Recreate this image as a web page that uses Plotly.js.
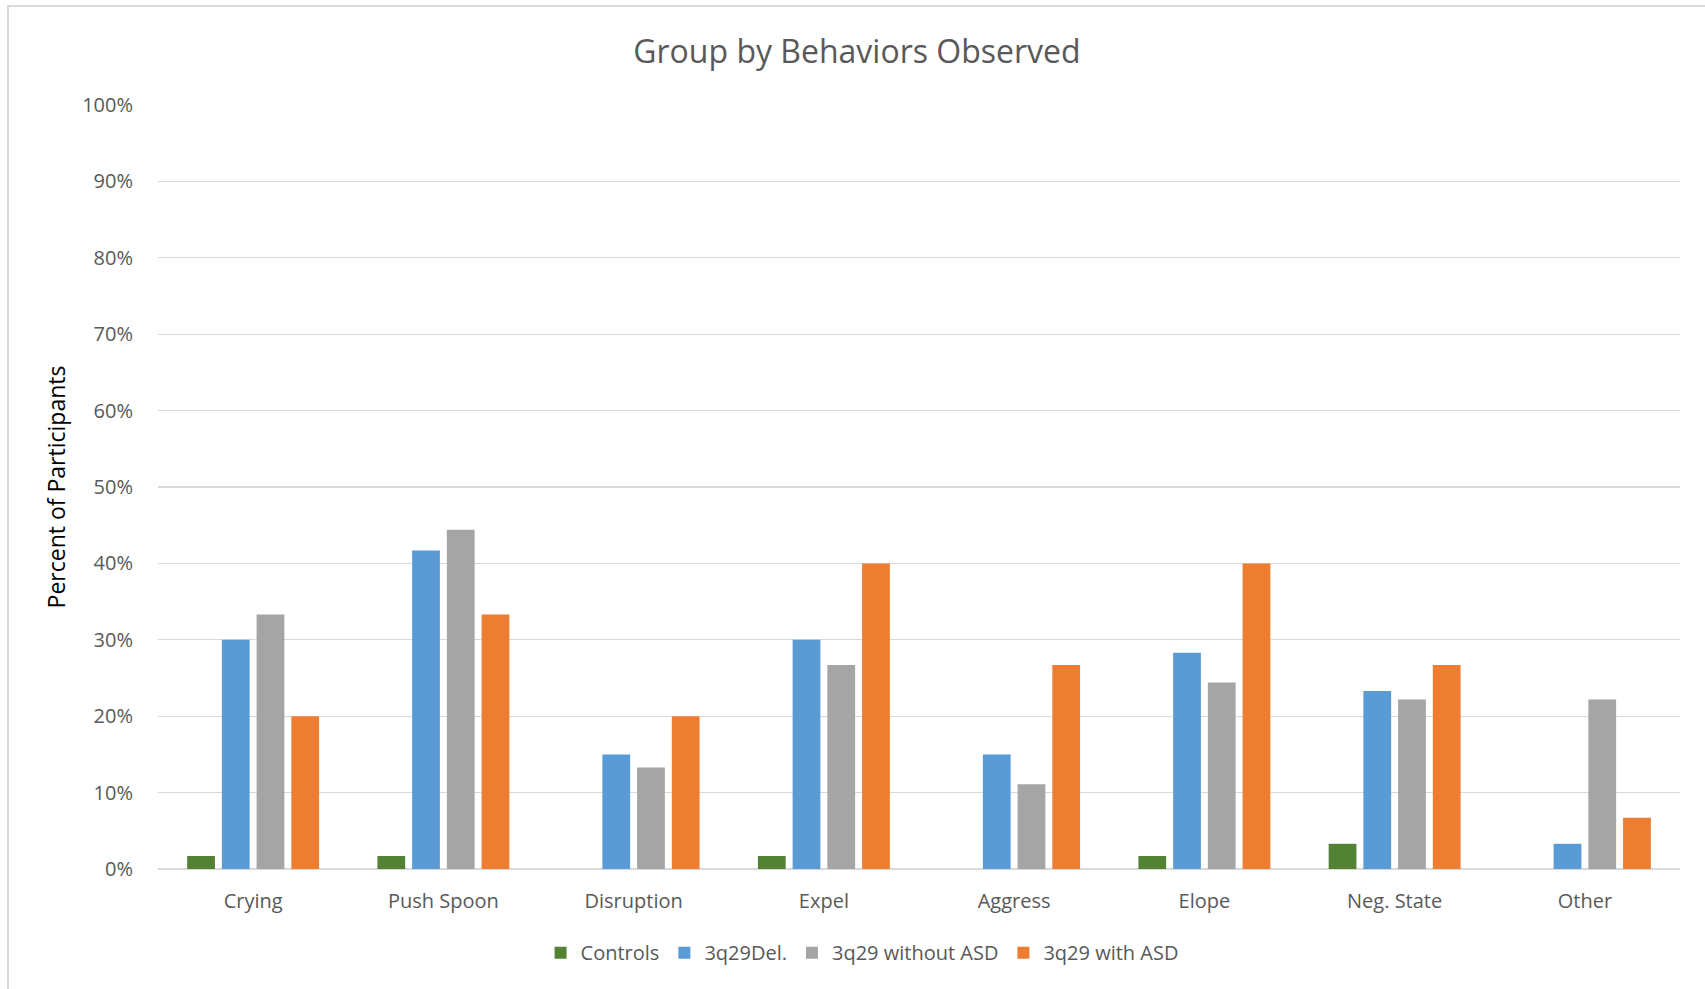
<!DOCTYPE html>
<html>
<head>
<meta charset="utf-8">
<script src="https://cdn.plot.ly/plotly-3.0.1.min.js"></script>
<style>
  html, body { margin: 0; padding: 0; background: #fff; }
  #frame { position: absolute; left: 7px; top: 5px; width: 1720px; height: 1000px; border-left: 2px solid #d9d9d9; border-top: 2px solid #d9d9d9; pointer-events: none; }
  #chart { width: 1705px; height: 989px; }
</style>
</head>
<body>
<div id="chart"></div>
<div id="frame"></div>
<script>
const categories = ["Crying", "Push Spoon", "Disruption", "Expel", "Aggress", "Elope", "Neg. State", "Other"];
const controls = [0.017, 0.017, 0, 0.017, 0, 0.017, 0.033, 0];
const del3q29 = [0.30, 0.417, 0.15, 0.30, 0.15, 0.283, 0.233, 0.033];
const withoutASD = [0.333, 0.444, 0.133, 0.267, 0.111, 0.244, 0.222, 0.222];
const withASD = [0.20, 0.333, 0.20, 0.40, 0.267, 0.40, 0.267, 0.067];
const seriesNames = ["Controls", "3q29Del.", "3q29 without ASD", "3q29 with ASD"];
const seriesColors = ["#548235", "#5B9BD5", "#A5A5A5", "#ED7D31"];
const seriesValues = [controls, del3q29, withoutASD, withASD];

const traces = seriesValues.map((vals, i) => ({
  type: "bar",
  name: seriesNames[i],
  x: categories,
  y: vals,
  marker: { color: seriesColors[i], line: { width: 0 } },
  hoverinfo: "x+y+name"
}));

const font = "Open Sans, Noto Sans, sans-serif";

const layout = {
  width: 1705,
  height: 989,
  paper_bgcolor: "#ffffff",
  plot_bgcolor: "#ffffff",
  margin: { l: 158, r: 25, t: 105, b: 120 },
  barmode: "group",
  bargap: 0.27,
  bargroupgap: 0.2,
  title: {
    text: "Group by Behaviors Observed",
    font: { family: font, size: 32, color: "#595959" },
    x: 0.5026, xref: "container", xanchor: "center",
    y: 0.948, yref: "container", yanchor: "middle"
  },
  xaxis: {
    type: "category",
    showgrid: false,
    showline: false,
    zeroline: false,
    ticks: "",
    tickfont: { family: font, size: 20, color: "#595959" },
    ticklabelstandoff: 18
  },
  yaxis: {
    range: [0, 1],
    dtick: 0.1,
    tickformat: ".0%",
    showgrid: true,
    gridcolor: "#d9d9d9",
    gridwidth: 1.3,
    zeroline: true,
    zerolinecolor: "#d9d9d9",
    zerolinewidth: 1.3,
    showline: false,
    ticks: "",
    ticklabelstandoff: 24,
    tickfont: { family: font, size: 20, color: "#595959" },
    title: {
      text: "Percent of Participants",
      font: { family: font, size: 23, color: "#000000" },
      standoff: 10
    }
  },
  legend: {
    orientation: "h",
    x: 0.4626, xanchor: "center",
    y: -0.084, yanchor: "top",
    font: { family: font, size: 20, color: "#595959" },
    itemclick: false
  },
  showlegend: true
};

Plotly.newPlot("chart", traces, layout, { displayModeBar: false, staticPlot: true });
</script>
</body>
</html>
